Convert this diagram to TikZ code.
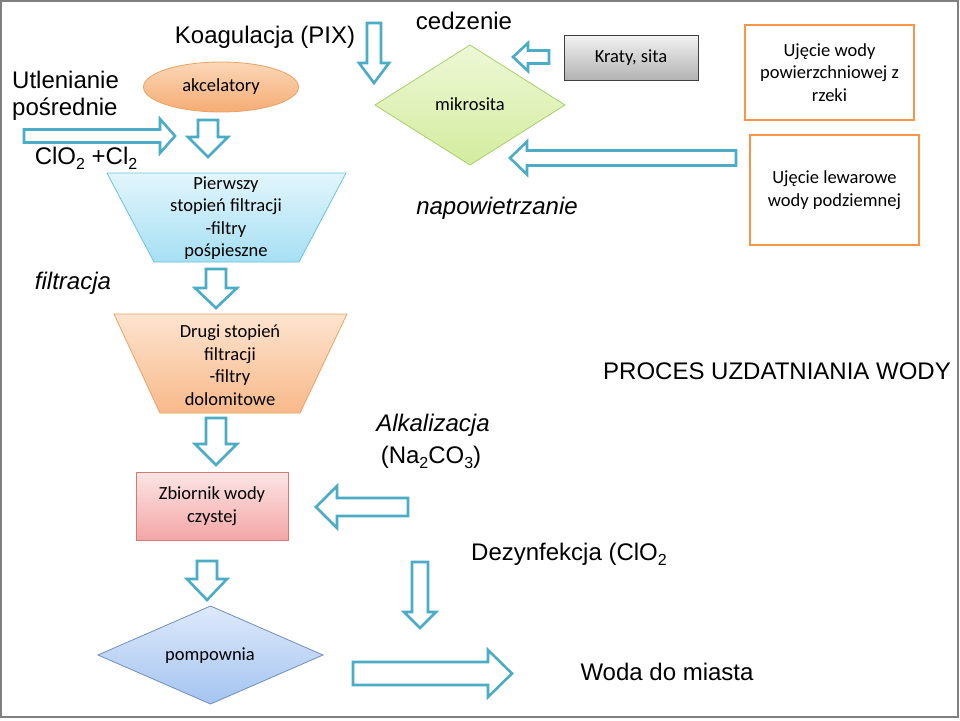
\documentclass[tikz,border=0pt]{standalone}
\usepackage{fontspec}
\setmainfont{Carlito}
\newfontfamily\arialf{Liberation Sans}
\usetikzlibrary{shapes.geometric}
\definecolor{arrowc}{HTML}{4BACC6}
\definecolor{orangeb}{HTML}{F79646}
\definecolor{bluetop}{HTML}{E2F5FC}
\definecolor{bluebot}{HTML}{A6E0F3}
\definecolor{blueline}{HTML}{6CC3DC}
\definecolor{ortop}{HTML}{FDE4CF}
\definecolor{orbot}{HTML}{F8B98A}
\definecolor{orline}{HTML}{E9A364}
\definecolor{eltop}{HTML}{FCD7B7}
\definecolor{elbot}{HTML}{F5AC74}
\definecolor{pktop}{HTML}{FCE5E5}
\definecolor{pkbot}{HTML}{F4A6A6}
\definecolor{pkline}{HTML}{D27A7A}
\definecolor{pbtop}{HTML}{DEE9FB}
\definecolor{pbbot}{HTML}{A4C4F0}
\definecolor{pbline}{HTML}{6F8FBF}
\definecolor{grtop}{HTML}{EEF8D6}
\definecolor{grbot}{HTML}{D3EC9E}
\definecolor{grline}{HTML}{A9CF6C}
\newcommand\subs[1]{\raisebox{-0.4ex}{\fontsize{16}{16}\selectfont #1}}
% horizontal block arrow: tail x, head base x, tip x, y centre, shaft half, head half
\newcommand\hblk[6]{\draw[blk] (#1,{#4-#5}) -- (#2,{#4-#5}) -- (#2,{#4-#6}) -- (#3,#4) -- (#2,{#4+#6}) -- (#2,{#4+#5}) -- (#1,{#4+#5}) -- cycle;}
% vertical block arrow: x centre, tail y, head base y, tip y, shaft half, head half
\newcommand\vblk[6]{\draw[blk] ({#1-#5},#2) -- ({#1-#5},#3) -- ({#1-#6},#3) -- (#1,#4) -- ({#1+#6},#3) -- ({#1+#5},#3) -- ({#1+#5},#2) -- cycle;}
\begin{document}
\begin{tikzpicture}[x=1pt,y=-1pt,
  blk/.style={draw=arrowc, line width=2.6pt, fill=white, line join=miter},
  lbl/.style={font=\fontsize{18.5}{22.5}\selectfont, align=center, inner sep=0},
  big/.style={font=\arialf\fontsize{24}{28}\selectfont, inner sep=0, align=center},
  bigit/.style={font=\arialf\itshape\fontsize{24}{31}\selectfont, inner sep=0, align=center},
  srcbox/.style={draw=orangeb, line width=2.8pt, fill=white}]
\useasboundingbox (0,0) rectangle (960,720);
\fill[white] (0,0) rectangle (960,720);
\draw[gray, line width=2pt] (1,1) rectangle (958,717);

% shapes
\node[ellipse, draw=orline, line width=0.8pt, top color=eltop, bottom color=elbot,
      minimum width=155, minimum height=50, lbl] (akc) at (221,87) {akcelatory};
\path[draw=blueline, line width=0.8pt, top color=bluetop, bottom color=bluebot]
  (107,173) -- (346,173) -- (299,262) -- (154,262) -- cycle;
\node[lbl] (p1) at (226,218) {Pierwszy\\stopień filtracji\\-filtry\\pośpieszne};
\path[draw=orline, line width=0.8pt, top color=ortop, bottom color=orbot]
  (114,314) -- (347,314) -- (300,413) -- (160,413) -- cycle;
\node[lbl] (p2) at (230,365) {Drugi stopień\\filtracji\\-filtry\\dolomitowe};
\node[draw=pkline, line width=0.8pt, top color=pktop, bottom color=pkbot,
      minimum width=152, minimum height=68, lbl] (zb) at (212,506) {Zbiornik wody\\czystej};
\path[draw=pbline, line width=0.8pt, top color=pbtop, bottom color=pbbot]
  (98,655) -- (210.5,606) -- (323,655) -- (210.5,704) -- cycle;
\node[lbl] (pom) at (210,656) {pompownia};
\path[draw=grline, line width=0.8pt, top color=grtop, bottom color=grbot]
  (375,105) -- (470,45) -- (565,105) -- (470,165) -- cycle;
\node[lbl] (mik) at (470,104) {mikrosita};
\node[draw=black!75, line width=0.8pt, top color=black!5, bottom color=black!30,
      minimum width=134, minimum height=45, lbl] (krat) at (631,57.5) {Kraty, sita};
\node[srcbox, minimum width=169, minimum height=95, lbl] (uj1) at (829.5,72.5) {Ujęcie wody\\powierzchniowej z\\rzeki};
\node[srcbox, minimum width=169, minimum height=110, lbl] (uj2) at (834.5,190) {Ujęcie lewarowe\\wody podziemnej};

% texts
\node[big] (koag) at (265,37) {Koagulacja (PIX)};
\node[big, anchor=west, align=left, font=\arialf\fontsize{24}{27}\selectfont] (utl) at (12,95.5) {Utlenianie\\pośrednie};
\node[big] (clo) at (86,158) {ClO\subs{2} +Cl\subs{2}};
\node[big] (ced) at (464,21) {cedzenie};
\node[bigit] (nap) at (497,208) {napowietrzanie};
\node[bigit] (fil) at (73,283) {filtracja};
\node[big] (proc) at (777,371) {PROCES UZDATNIANIA WODY};
\node[bigit] (alk) at (433,425) {Alkalizacja};
\node[big] (na) at (431,457) {(Na\subs{2}CO\subs{3})};
\node[big] (dez) at (569,554) {Dezynfekcja (ClO\subs{2}};
\node[big] (woda) at (667,672) {Woda do miasta};

% block arrows
\hblk{24}{160}{175}{136}{6.5}{17}
\vblk{208}{120}{137}{157}{10}{20}
\vblk{374}{23}{63}{83}{7}{15}
\hblk{549}{528}{513}{57}{6.5}{14}
\hblk{736}{527}{510}{158}{7.5}{16.5}
\vblk{216}{269}{288}{308}{10}{21}
\vblk{216}{418}{444}{465}{10}{21}
\hblk{408}{337}{316}{507}{9}{21}
\vblk{420}{562}{612}{628}{8}{16}
\vblk{207}{561}{579}{600}{10}{20}
\hblk{353}{488}{512}{673.5}{11.5}{23.5}
\end{tikzpicture}
\end{document}
